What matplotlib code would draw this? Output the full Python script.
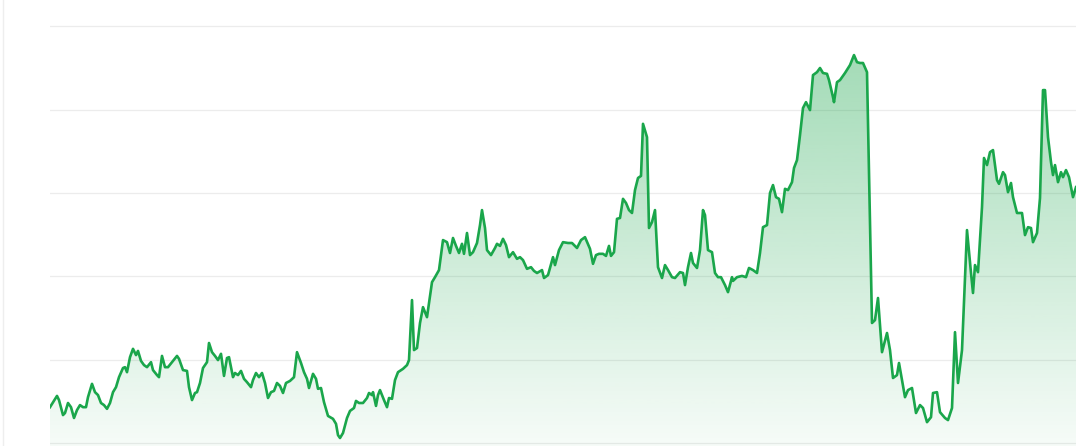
import numpy as np
import matplotlib
matplotlib.use("Agg")
import matplotlib.pyplot as plt
from matplotlib.lines import Line2D
from matplotlib.patches import Polygon

# Day index and value
days = [0, 7, 9, 13, 15, 18, 21, 24, 27, 30, 33, 36, 38, 42, 45, 48, 51, 54, 57, 60,
        63, 66, 69, 73, 75, 77, 80, 83, 86, 88, 91, 94, 97, 101, 103, 107, 109, 112, 115, 118,
        122, 127, 129, 133, 137, 139, 142, 145, 147, 150, 153, 157, 159, 162, 165, 168, 171, 174, 177, 179,
        183, 185, 188, 191, 194, 197, 201, 203, 206, 209, 212, 215, 218, 221, 224, 227, 230, 233, 236, 240,
        244, 247, 251, 254, 257, 259, 263, 266, 268, 271, 274, 278, 283, 286, 288, 290, 293, 297, 300, 304,
        306, 309, 313, 317, 319, 322, 323, 326, 328, 330, 334, 337, 339, 342, 345, 348, 353, 357, 359, 362,
        364, 367, 370, 373, 377, 379, 382, 385, 389, 393, 397, 400, 403, 406, 409, 412, 414, 417, 420, 423,
        427, 430, 432, 435, 437, 441, 445, 447, 450, 453, 456, 459, 463, 467, 470, 473, 477, 481, 484, 487,
        492, 494, 498, 503, 505, 509, 513, 518, 522, 527, 531, 535, 540, 543, 546, 549, 553, 556, 559, 561,
        564, 567, 570, 573, 576, 579, 582, 585, 588, 591, 593, 597, 599, 602, 605, 608, 612, 615, 618, 622,
        625, 630, 633, 635, 638, 641, 643, 647, 650, 653, 655, 658, 662, 665, 668, 671, 675, 678, 682, 683,
        687, 692, 696, 699, 703, 707, 710, 713, 717, 720, 723, 726, 729, 732, 735, 738, 742, 744, 747, 750,
        753, 756, 760, 763, 767, 770, 773, 777, 779, 783, 784, 787, 790, 795, 800, 804, 807, 810, 813, 817,
        822, 825, 828, 832, 837, 840, 843, 847, 849, 855, 858, 862, 866, 870, 873, 877, 881, 883, 887, 890,
        895, 898, 902, 905, 908, 912, 917, 921, 923, 925, 928, 932, 934, 937, 940, 943, 947, 949, 953, 955,
        958, 961, 963, 967, 972, 975, 978, 981, 983, 987, 990, 993, 995, 998, 1001, 1003, 1005, 1008, 1011, 1013,
        1016, 1019, 1023, 1026]

values = [8.6, 11.3, 10.3, 6.7, 7.2, 9.6, 8.6, 6.0, 7.9, 9.1, 8.6, 8.6, 11.0, 14.2, 12.2, 11.5, 9.6, 9.1, 8.2, 9.6,
          12.2, 13.4, 15.8, 18.0, 18.2, 17.0, 20.6, 22.6, 21.1, 22.1, 19.7, 18.7, 18.2, 19.4, 17.5, 16.3, 15.8, 20.9, 18.2, 18.2,
          19.4, 20.9, 20.2, 17.5, 17.3, 13.4, 10.3, 12.0, 12.2, 14.4, 18.0, 19.4, 24.0, 21.8, 20.9, 19.9, 21.4, 16.1, 20.4, 20.6,
          15.8, 16.8, 16.3, 17.3, 15.4, 14.6, 13.4, 15.1, 16.8, 15.8, 16.8, 14.4, 10.8, 12.2, 12.5, 14.4, 13.7, 12.0, 14.4, 14.9,
          15.8, 21.8, 19.2, 17.0, 15.4, 13.2, 16.6, 15.4, 13.0, 13.2, 9.8, 6.5, 5.8, 4.6, 1.9, 1.2, 2.4, 6.0, 7.7, 8.4,
          10.1, 9.6, 9.6, 10.8, 12.0, 11.5, 12.2, 8.9, 11.5, 12.7, 10.3, 8.6, 10.8, 10.6, 15.1, 17.0, 17.8, 18.7, 19.9, 34.3,
          22.3, 22.8, 28.8, 32.6, 30.2, 33.6, 38.6, 39.8, 41.5, 48.7, 48.2, 45.6, 49.2, 47.3, 45.6, 47.8, 45.4, 50.4, 45.1, 45.8,
          48.0, 52.3, 55.9, 51.6, 46.3, 45.1, 46.8, 47.8, 47.3, 49.0, 47.5, 44.6, 45.8, 44.2, 44.6, 43.9, 41.8, 42.2, 41.3, 40.8,
          41.5, 39.6, 40.3, 44.6, 42.7, 46.3, 48.2, 48.0, 48.0, 46.8, 48.7, 49.4, 46.6, 43.0, 45.1, 45.4, 45.4, 44.9, 47.3, 44.9,
          45.8, 53.8, 54.0, 58.6, 57.6, 55.9, 55.2, 60.7, 63.6, 64.1, 76.6, 73.4, 51.6, 53.0, 55.9, 42.2, 39.6, 42.7, 41.5, 39.8,
          39.6, 41.0, 40.8, 37.9, 42.2, 45.6, 43.2, 42.0, 46.3, 55.9, 54.7, 46.3, 45.8, 40.8, 39.8, 39.8, 37.9, 36.2, 39.8, 38.9,
          39.8, 40.1, 39.8, 42.0, 41.5, 40.8, 45.6, 51.8, 52.3, 60.0, 61.9, 59.0, 58.6, 55.4, 61.0, 60.7, 62.6, 66.0, 67.9, 73.9,
          80.4, 81.8, 79.9, 88.3, 89.0, 90.0, 88.8, 88.6, 87.1, 83.0, 81.8, 86.6, 87.1, 88.8, 90.7, 93.1, 91.4, 91.2, 91.2, 89.0,
          28.8, 29.5, 34.8, 21.8, 26.4, 22.3, 15.6, 16.3, 19.2, 11.0, 12.7, 13.2, 7.2, 9.1, 8.4, 5.0, 6.2, 12.0, 12.2, 7.4,
          6.0, 5.5, 8.4, 26.6, 14.4, 22.3, 51.1, 40.8, 36.0, 42.7, 41.0, 56.6, 68.4, 66.7, 69.8, 70.3, 63.1, 62.2, 65.0, 64.3,
          60.2, 62.4, 59.0, 55.2, 55.2, 49.9, 51.8, 51.6, 48.2, 50.4, 58.8, 84.7, 84.7, 73.4, 67.4, 64.3, 66.7, 62.6, 65.0, 63.8,
          65.5, 63.8, 59.0, 61.4]

grid_levels = [0, 20, 40, 60, 80, 100]

LINE = "#1aa64b"

fig = plt.figure(figsize=(10.8, 4.46), dpi=100)
fig.patch.set_facecolor("white")
ax = fig.add_axes([50 / 1080, 0, 1026 / 1080, 1])
ax.set_xlim(days[0], days[-1])
ax.set_ylim(-0.72, 106.32)

for g in grid_levels:
    ax.axhline(g, color="#ececec", linewidth=0.9, zorder=0)

x = np.array(days, dtype=float)
y = np.array(values, dtype=float)

# gradient fill under the line
top = y.max()
n = 256
alphas = np.linspace(0.04, 0.40, n)[:, None]
rgb = np.array(matplotlib.colors.to_rgb(LINE))
img = np.zeros((n, 1, 4))
img[..., :3] = rgb
img[..., 3] = alphas
im = ax.imshow(img, extent=[x[0], x[-1], -0.72, top], origin="lower",
               aspect="auto", zorder=1, interpolation="bilinear")
verts = np.vstack([[x[0], -0.72], np.column_stack([x, y]), [x[-1], -0.72]])
poly = Polygon(verts, closed=True, facecolor="none", edgecolor="none")
ax.add_patch(poly)
im.set_clip_path(poly)

ax.plot(x, y, color=LINE, linewidth=1.9, solid_joinstyle="round", zorder=3)

for s in ax.spines.values():
    s.set_visible(False)
ax.set_xticks([])
ax.set_yticks([])
ax.patch.set_alpha(0)

fig.add_artist(Line2D([2.5 / 1080, 2.5 / 1080], [0, 1], transform=fig.transFigure,
                      color="#eeeeee", linewidth=1))

fig.savefig("out.png", dpi=100)
